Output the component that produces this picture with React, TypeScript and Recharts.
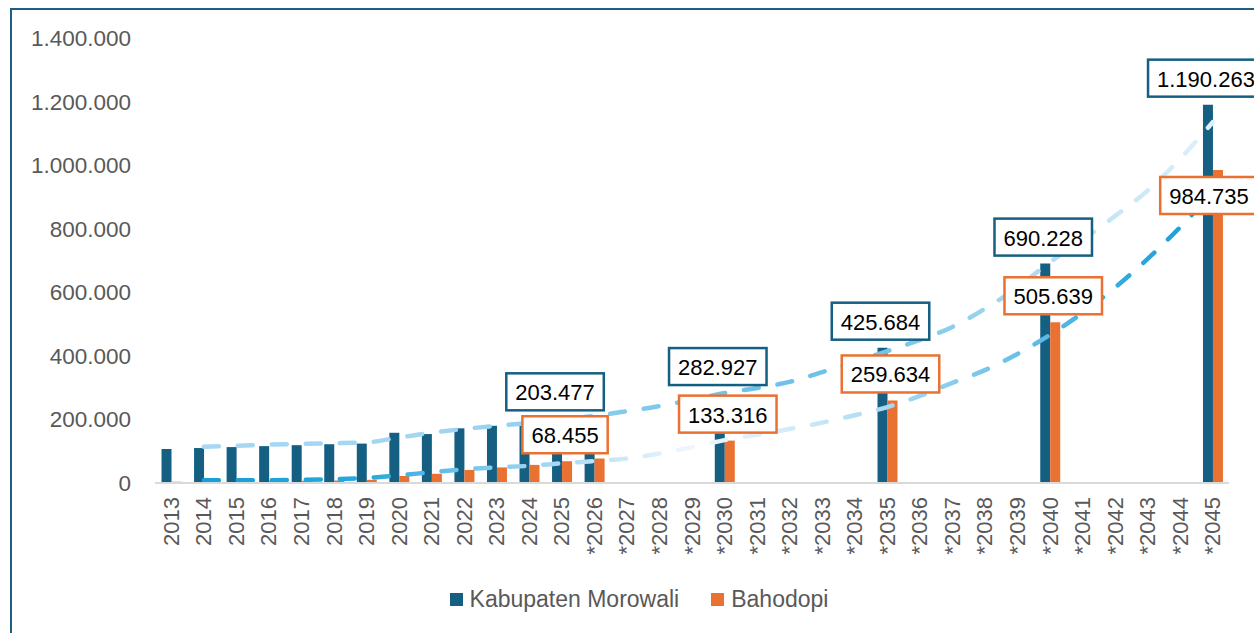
import React from 'react';
import { ComposedChart, Bar, Line, XAxis, YAxis, LabelList, Legend } from 'recharts';

const categories = [
  '2013', '2014', '2015', '2016', '2017', '2018', '2019', '2020', '2021', '2022', '2023', '2024', '2025',
  '*2026', '*2027', '*2028', '*2029', '*2030', '*2031', '*2032', '*2033', '*2034', '*2035',
  '*2036', '*2037', '*2038', '*2039', '*2040', '*2041', '*2042', '*2043', '*2044', '*2045',
];

const morowali: (number | null)[] = [
  107000, 110000, 113000, 116000, 119000, 122000, 124000, 158000, 154000, 172000, 180000, 191000, 203477,
  213000, null, null, null, 282927, null, null, null, null, 425684,
  null, null, null, null, 690228, null, null, null, null, 1190263,
];

const bahodopi: (number | null)[] = [
  4000, 5000, 6000, 7000, 7000, 8000, 10000, 22000, 29000, 41000, 49000, 57000, 68455,
  77000, null, null, null, 133316, null, null, null, null, 259634,
  null, null, null, null, 505639, null, null, null, null, 984735,
];

const trendMorowali: (number | null)[] = [
  null, 114000, 117000, 121000, 123000, 125000, 128000, 143000, 158000, 170000, 180000, 189000, 200000,
  211000, 226000, 242000, 262000, 283000, 299000, 318000, 349000, 381000, 415000,
  450000, 491000, 548000, 615000, 695000, 765000, 840000, 920000, 1020000, 1135000,
];

const trendBahodopi: (number | null)[] = [
  null, 9000, 9000, 9000, 10000, 12000, 16000, 24000, 34000, 43000, 49000, 54000, 62000,
  69000, 77000, 93000, 113000, 135000, 152000, 170000, 190000, 213000, 239000,
  274000, 315000, 355000, 406000, 466000, 535000, 615000, 705000, 805000, 915000,
];

const yTicks = [0, 200000, 400000, 600000, 800000, 1000000, 1200000, 1400000];
const labeledYears = ['2025', '*2030', '*2035', '*2040', '*2045'];
const seriesNames = ['Kabupaten Morowali', 'Bahodopi'];

const COLOR_M = '#156082';
const COLOR_B = '#E97132';
const FONT = '"Liberation Sans", Arial, sans-serif';

const data = categories.map((c, i) => ({
  cat: c,
  morowali: morowali[i],
  bahodopi: bahodopi[i],
  trendM: trendMorowali[i],
  trendB: trendBahodopi[i],
}));

const fmt = (v: number) => {
  const s = Math.round(v).toString();
  return s.replace(/\B(?=(\d{3})+(?!\d))/g, '.');
};

const XTick = (props: any) => {
  const { x, y, payload } = props;
  return (
    <text
      x={x}
      y={y}
      transform={`rotate(-90, ${x}, ${y})`}
      textAnchor="end"
      dominantBaseline="central"
      fill="#595959"
      fontSize={22}
      fontFamily={FONT}
    >
      {payload.value}
    </text>
  );
};

const makeLabel = (kind: 'M' | 'B', color: string, series: (number | null)[]) => (props: any) => {
  const vb = props.viewBox || {};
  const x = props.x ?? vb.x;
  const y = props.y ?? vb.y;
  const width = props.width ?? vb.width;
  const { value } = props;
  if (value == null) return null;
  const idx = series.indexOf(Number(value));
  if (idx < 0 || !labeledYears.includes(categories[idx])) return null;
  const text = fmt(Number(value));
  const fs = 22;
  const dots = (text.match(/\./g) || []).length;
  const digits = text.length - dots;
  const tw = digits * fs * 0.556 + dots * fs * 0.278;
  const w = tw + 18;
  const h = 37;
  const last = idx === categories.length - 1;
  const inside = kind === 'B' && last;
  const cx = x + width / 2 - (inside ? 9 : 2);
  const top = inside ? y + 7 : y - 8 - h;
  return (
    <g>
      <rect x={cx - w / 2} y={top} width={w} height={h} fill="#ffffff" stroke={color} strokeWidth={2.5} />
      <text
        x={cx}
        y={top + h / 2 + 1}
        textAnchor="middle"
        dominantBaseline="central"
        fontSize={fs}
        fontFamily={FONT}
        fill="#000000"
      >
        {text}
      </text>
    </g>
  );
};

const LegendContent = () => (
  <div
    style={{
      display: 'flex',
      justifyContent: 'center',
      alignItems: 'center',
      gap: 32,
      fontFamily: FONT,
      fontSize: 23,
      color: '#595959',
      lineHeight: '28px',
    }}
  >
    {seriesNames.map((n, i) => (
      <div key={n} style={{ display: 'flex', alignItems: 'center', gap: 7 }}>
        <span style={{ width: 13, height: 13, background: i === 0 ? COLOR_M : COLOR_B, display: 'inline-block' }} />
        <span>{n}</span>
      </div>
    ))}
  </div>
);

export default function App() {
  return (
    <div
      style={{
        position: 'absolute',
        left: 0,
        top: 0,
        width: 1254,
        height: 633,
        overflow: 'hidden',
        background: '#ffffff',
      }}
    >
      <div
        style={{
          position: 'absolute',
          left: 10,
          top: 8,
          width: 2000,
          height: 1000,
          borderTop: '2px solid #1F5E80',
          borderLeft: '2px solid #1F5E80',
        }}
      />
      <div style={{ position: 'absolute', left: 0, top: 0 }}>
        <ComposedChart
          width={1300}
          height={633}
          data={data}
          margin={{ top: 38, right: 71, bottom: 50, left: 0 }}
          barCategoryGap="20%"
          barGap={0}
        >
          <defs>
            <linearGradient id="gradM" gradientUnits="userSpaceOnUse" x1={155} y1={0} x2={1229} y2={0}>
              <stop offset="0" stopColor="#a6d8f2" />
              <stop offset="0.25" stopColor="#a3d6f1" />
              <stop offset="0.4" stopColor="#8ccdee" />
              <stop offset="0.55" stopColor="#6ec1ea" />
              <stop offset="0.68" stopColor="#72c3ea" />
              <stop offset="0.8" stopColor="#a6d8f2" />
              <stop offset="0.9" stopColor="#c8e7f7" />
              <stop offset="1" stopColor="#e2f2fb" />
            </linearGradient>
            <linearGradient id="gradB" gradientUnits="userSpaceOnUse" x1={155} y1={0} x2={1229} y2={0}>
              <stop offset="0" stopColor="#0f9ed5" />
              <stop offset="0.2" stopColor="#2aa7dc" />
              <stop offset="0.3" stopColor="#7cc7ec" />
              <stop offset="0.4" stopColor="#b8e0f5" />
              <stop offset="0.5" stopColor="#eef8fd" />
              <stop offset="0.6" stopColor="#cfeaf8" />
              <stop offset="0.7" stopColor="#9fd5f1" />
              <stop offset="0.82" stopColor="#5dbde7" />
              <stop offset="0.92" stopColor="#2aa5dc" />
              <stop offset="1" stopColor="#0f9ed5" />
            </linearGradient>
          </defs>
          <XAxis
            dataKey="cat"
            interval={0}
            height={100}
            tickLine={false}
            tickSize={0}
            tickMargin={14}
            axisLine={{ stroke: '#d9d9d9', strokeWidth: 2 }}
            tick={<XTick />}
          />
          <YAxis
            domain={[0, 1400000]}
            ticks={yTicks}
            width={155}
            axisLine={false}
            tickLine={false}
            tickSize={0}
            tickMargin={24}
            tickFormatter={(v: number) => fmt(v)}
            tick={{ fill: '#595959', fontSize: 22.5, fontFamily: FONT }}
          />
          <Legend
            verticalAlign="middle"
            align="center"
            layout="horizontal"
            wrapperStyle={{ top: 585, left: 0, width: 1278 }}
            content={<LegendContent />}
          />
          <Bar dataKey="morowali" name={seriesNames[0]} fill={COLOR_M} isAnimationActive={false}>
            <LabelList dataKey="morowali" content={makeLabel('M', COLOR_M, morowali)} />
          </Bar>
          <Bar dataKey="bahodopi" name={seriesNames[1]} fill={COLOR_B} isAnimationActive={false}>
            <LabelList dataKey="bahodopi" content={makeLabel('B', COLOR_B, bahodopi)} />
          </Bar>
          <Line
            dataKey="trendM"
            type="monotone"
            stroke="url(#gradM)"
            strokeWidth={4.5}
            strokeDasharray="15 19"
            strokeLinecap="round"
            dot={false}
            activeDot={false}
            connectNulls
            legendType="none"
            isAnimationActive={false}
          />
          <Line
            dataKey="trendB"
            type="monotone"
            stroke="url(#gradB)"
            strokeWidth={4.5}
            strokeDasharray="15 19"
            strokeLinecap="round"
            dot={false}
            activeDot={false}
            connectNulls
            legendType="none"
            isAnimationActive={false}
          />
        </ComposedChart>
      </div>
    </div>
  );
}
